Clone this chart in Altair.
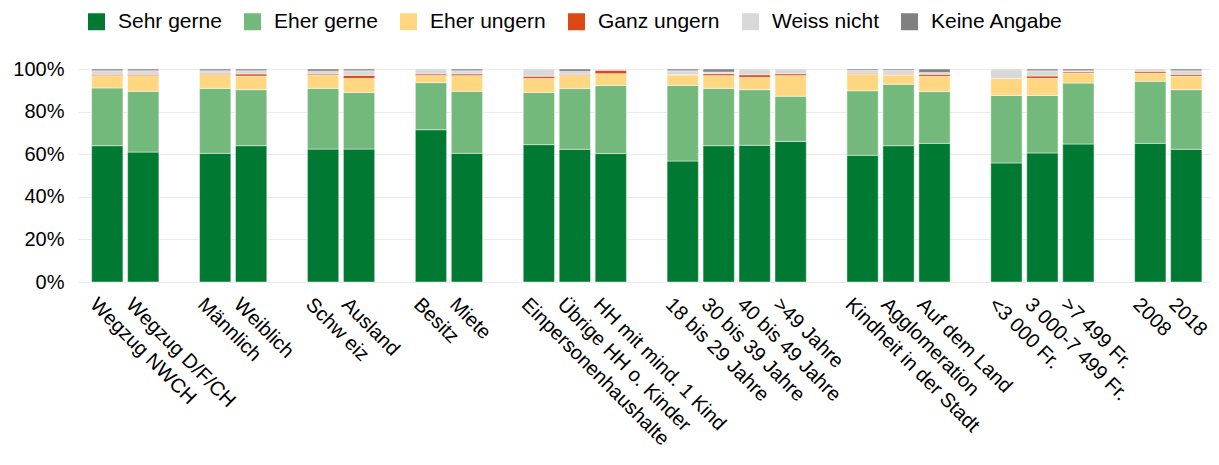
import altair as alt
import pandas as pd

categories = ["Wegzug NWCH", "Wegzug D/F/CH", "Männlich", "Weiblich", "Schw eiz", "Ausland",
              "Besitz", "Miete", "Einpersonenhaushalte", "Übrige HH o. Kinder", "HH mit mind. 1 Kind",
              "18 bis 29 Jahre", "30 bis 39 Jahre", "40 bis 49 Jahre", ">49 Jahre",
              "Kindheit in der Stadt", "Agglomeration", "Auf dem Land",
              "<3 000 Fr.", "3 000-7 499 Fr.", ">7 499 Fr.", "2008", "2018"]
group_sizes = [2, 2, 2, 2, 3, 4, 3, 3, 2]

series = ["Sehr gerne", "Eher gerne", "Eher ungern", "Ganz ungern", "Weiss nicht", "Keine Angabe"]
colors = ["#007A33", "#74B97C", "#FFD780", "#DC4814", "#D9D9D9", "#808080"]

sehr_gerne = [64.0, 61.0, 60.4, 64.0, 62.4, 62.4, 71.5, 60.4, 64.5, 62.3, 60.3, 56.8, 64.0, 64.2, 66.0, 59.5, 64.0, 65.1, 55.9, 60.6, 64.8, 65.1, 62.3]
eher_gerne = [27.1, 28.5, 30.5, 26.3, 28.5, 26.6, 22.1, 29.1, 24.5, 28.5, 32.0, 35.5, 26.9, 26.1, 21.2, 30.3, 28.8, 24.3, 31.7, 27.0, 28.6, 29.1, 28.0]
eher_ungern = [5.8, 7.4, 6.6, 6.4, 6.3, 6.6, 3.4, 7.4, 6.6, 6.2, 5.5, 4.9, 6.0, 5.8, 9.8, 7.7, 4.4, 7.2, 7.9, 8.0, 4.7, 3.9, 6.4]
ganz_ungern = [0.6, 0.6, 0.5, 1.0, 0.5, 1.4, 0.7, 0.8, 1.0, 0.5, 1.6, 0.2, 0.9, 1.2, 0.8, 0.5, 0.3, 0.9, 0.0, 1.1, 0.6, 0.8, 0.8]
weiss_nicht = [1.7, 1.7, 1.2, 1.5, 1.3, 2.2, 2.3, 1.5, 3.4, 1.4, 0.6, 1.8, 0.8, 2.7, 2.2, 1.4, 1.9, 0.9, 4.5, 2.5, 0.5, 1.1, 1.7]
keine_angabe = [0.8, 0.8, 0.8, 0.8, 1.0, 0.8, 0.0, 0.8, 0.0, 1.1, 0.0, 0.8, 1.4, 0.0, 0.0, 0.6, 0.6, 1.6, 0.0, 0.8, 0.8, 0.0, 0.8]

values = [sehr_gerne, eher_gerne, eher_ungern, ganz_ungern, weiss_nicht, keine_angabe]

rows = []
for i, cat in enumerate(categories):
    for k, s in enumerate(series):
        v = values[k][i]
        if v > 0:
            rows.append({"cat": cat, "series": s, "order": k, "value": v})
df = pd.DataFrame(rows)

# band domain with one empty slot between groups
x_domain = []
idx = 0
for g, n in enumerate(group_sizes):
    if g > 0:
        x_domain.append(f"_sp{g}")
    x_domain.extend(categories[idx:idx + n])
    idx += n

FONT = "Liberation Sans"

chart = alt.Chart(df).mark_bar(stroke="white", strokeWidth=1, strokeOpacity=0.45).encode(
    x=alt.X("cat:N", sort=x_domain,
            scale=alt.Scale(domain=x_domain, paddingInner=0.13, paddingOuter=0.316, align=0.6),
            axis=alt.Axis(title=None, labelAngle=45, labelAlign="left", labelBaseline="top",
                          labelPadding=12, labelOffset=-7, ticks=False, domain=False, labelFontSize=20,
                          labelFont=FONT, labelColor="black", labelOverlap=False, labelLimit=400,
                          labelExpr="indexof(datum.label, '_sp') == 0 ? '' : datum.label")),
    y=alt.Y("value:Q", stack="normalize",
            scale=alt.Scale(domain=[0, 1], nice=False),
            axis=alt.Axis(title=None, format=".0%", values=[0, 0.2, 0.4, 0.6, 0.8, 1.0],
                          ticks=False, domain=False, labelFontSize=20, labelFont=FONT,
                          labelColor="black", labelPadding=14, gridColor="#EBEBEB", gridWidth=1.2)),
    color=alt.Color("series:N", sort=series,
                    scale=alt.Scale(domain=series, range=colors),
                    legend=alt.Legend(title=None, orient="none", direction="horizontal",
                                      legendX=8, legendY=-58, symbolType="square",
                                      symbolSize=289, symbolStrokeWidth=0, labelFontSize=21,
                                      labelFont=FONT, labelColor="black", labelOffset=11,
                                      columnPadding=20, columns=6)),
    order=alt.Order("order:Q", sort="ascending"),
).properties(
    width=1133, height=213,
    autosize=alt.AutoSizeParams(type="none"),
    padding={"left": 70, "top": 61, "right": 0, "bottom": 175},
).configure_view(stroke=None)

chart.save("out.html", embed_options={"renderer": "svg", "actions": False})
